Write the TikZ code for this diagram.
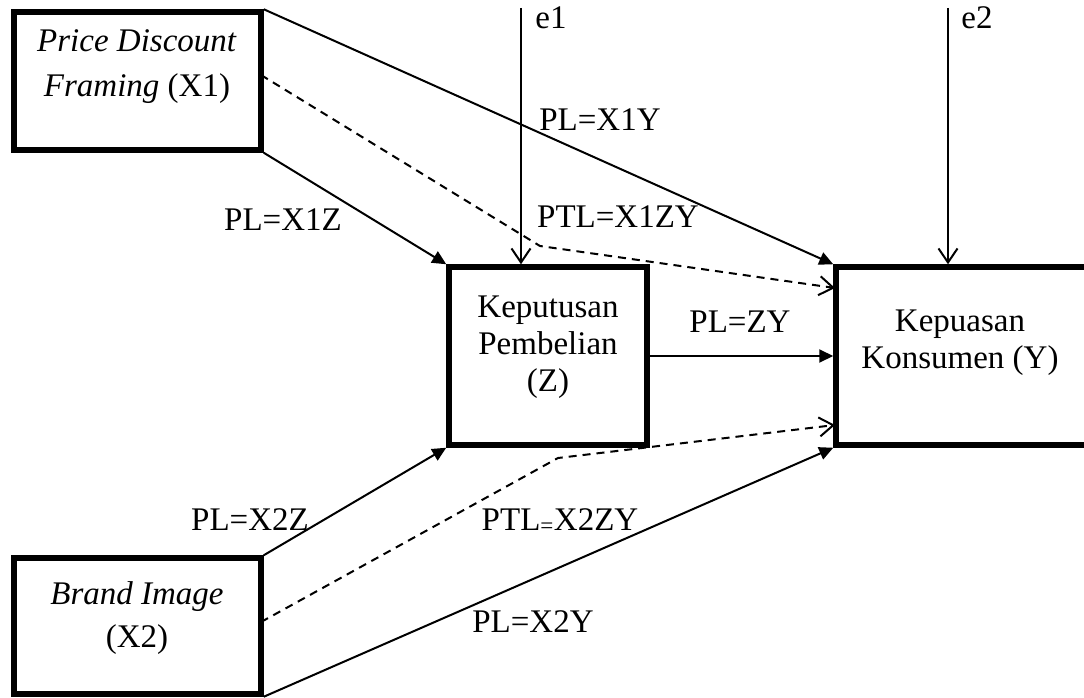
\documentclass[tikz,border=0pt]{standalone}
\usepackage{fontspec}
\setmainfont{Liberation Serif}
\usetikzlibrary{arrows.meta}

\tikzset{
  varbox/.style={draw, line width=5.5pt, inner sep=0pt},
  lbl/.style={font=\fontsize{33}{37}\selectfont, inner sep=0pt, align=center},
  solidarr/.style={line width=2pt, -{Triangle[length=14pt,width=13pt]}},
  dasharr/.style={line width=2pt, dash pattern=on 8pt off 6pt, -{Straight Barb[length=14pt,width=19pt]}},
  openarr/.style={line width=2pt, -{Straight Barb[length=14pt,width=19pt]}}
}

\begin{document}
\begin{tikzpicture}[x=1pt,y=-1pt]
\useasboundingbox (0,0) rectangle (1084,698);
\clip (0,0) rectangle (1084,698);

% variables
\node[varbox, minimum width=247pt, minimum height=138pt] (x1) at (137.5,81) {};
\node[varbox, minimum width=247pt, minimum height=136pt] (x2) at (137.5,626) {};
\node[varbox, minimum width=198pt, minimum height=178pt] (z) at (548,356) {};
\node[varbox, minimum width=254pt, minimum height=178pt] (y) at (963,356) {};

\node[lbl] (x1txt) at (137,67) {\textit{Price Discount}\\[8pt]\textit{Framing} (X1)};
\node[lbl] (x2txt) at (137,618) {\textit{Brand Image}\\[6pt](X2)};
\node[lbl] (ztxt) at (548,347) {Keputusan\\Pembelian\\(Z)};
\node[lbl] (ytxt) at (960,343) {Kepuasan\\Konsumen (Y)};

% errors
\coordinate (e1top) at (521,8);
\coordinate (e2top) at (948,8);
\node[lbl] (e1) at (551,18) {e1};
\node[lbl] (e2) at (977,18) {e2};
\draw[openarr] (e1top) -- (e1top |- z.north);
\draw[openarr] (e2top) -- (e2top |- y.north);

% direct paths
\draw[solidarr] (x1.north east) -- (y.north west);
\draw[solidarr] (x1.south east) -- (z.north west);
\draw[solidarr] (z.east) -- (y.west);
\draw[solidarr] (x2.north east) -- (z.south west);
\draw[solidarr] (x2.south east) -- (y.south west);

% indirect paths
\coordinate (d1a) at (261,75);
\coordinate (d1b) at (540,246);
\coordinate (d1c) at (835,288);
\draw[dasharr] (d1a) -- (d1b) -- (d1c);

\coordinate (d2a) at (261,622);
\coordinate (d2b) at (558,458);
\coordinate (d2c) at (835,425);
\draw[dasharr] (d2a) -- (d2b) -- (d2c);

% path labels
\node[lbl] (px1y) at (600,120) {PL=X1Y};
\node[lbl] (px1z) at (283,220) {PL=X1Z};
\node[lbl] (pt1) at (618,217) {PTL=X1ZY};
\node[lbl] (pzy) at (740,322) {PL=ZY};
\node[lbl] (px2z) at (250,520) {PL=X2Z};
\node[lbl] (pt2) at (560,521) {PTL\textsubscript{=}X2ZY};
\node[lbl] (px2y) at (533,622) {PL=X2Y};

\end{tikzpicture}
\end{document}
